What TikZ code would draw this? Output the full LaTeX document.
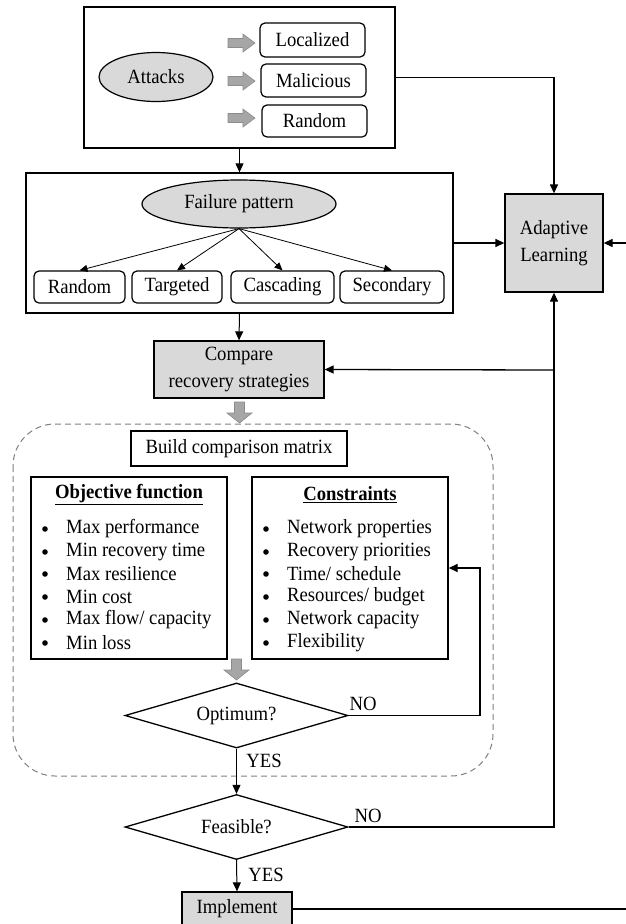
\documentclass[tikz,border=0pt]{standalone}
\usepackage{fontspec}
\setmainfont[FakeStretch=0.925]{Liberation Serif}
\usetikzlibrary{arrows.meta,shapes.geometric}

\definecolor{boxgray}{HTML}{D9D9D9}
\definecolor{blockgray}{HTML}{A6A6A6}
\definecolor{blockedge}{HTML}{8C8C8C}
\definecolor{dashgray}{HTML}{808080}

\begin{document}
\begin{tikzpicture}[x=1pt,y=-1pt,
  every node/.style={font=\fontsize{20.2}{27}\selectfont, inner sep=0pt, align=center},
  frame/.style={draw, line width=1.3pt},
  pill/.style={draw, line width=1.2pt, rounded corners=5pt},
  oval/.style={draw, ellipse, line width=1.2pt, fill=boxgray},
  grayframe/.style={draw, line width=1.3pt, fill=boxgray},
  decision/.style={draw, diamond, aspect=3.43, line width=1.3pt},
  flow/.style={line width=1.3pt, -{Triangle[length=9pt,width=8pt]}},
  thinflow/.style={line width=0.8pt, -{Triangle[length=8pt,width=7pt]}},
  blockfill/.style={fill=blockgray, draw=blockedge, line width=0.6pt},
  listtext/.style={anchor=west, font=\fontsize{20.2}{22.8}\selectfont},
  dot/.style={circle, fill=black, minimum size=5.6pt},
  rblock/.pic={\filldraw[blockfill] (0,-4.5) -- (15,-4.5) -- (15,-9) -- (27,0) -- (15,9) -- (15,4.5) -- (0,4.5) -- cycle;},
  dblock/.pic={\filldraw[blockfill] (-5,0) -- (-5,11) -- (-12.5,11) -- (0,21) -- (12.5,11) -- (5,11) -- (5,0) -- cycle;}
]
\useasboundingbox (0,0) rectangle (626,924);
\clip (0,0) rectangle (626,924);

% ---- attacks block ----
\node[frame, minimum width=311pt, minimum height=141pt] (attackbox) at (239.5,77.5) {};
\node[oval, minimum width=114pt, minimum height=49pt] (attacks) at (156,77) {Attacks};
\node[pill, minimum width=105pt, minimum height=34pt] (loc) at (312.5,40) {Localized};
\node[pill, minimum width=105pt, minimum height=33pt] (mal) at (313.5,80.5) {Malicious};
\node[pill, minimum width=105pt, minimum height=32pt] (rnd) at (314.5,121) {Random};
\pic at (228,43) {rblock};
\pic at (228,81) {rblock};
\pic at (228,118) {rblock};

% ---- failure pattern block ----
\node[frame, minimum width=427pt, minimum height=140pt] (failbox) at (239.5,243) {};
\node[oval, minimum width=194pt, minimum height=48pt] (fp) at (239,204) {Failure pattern};
\node[pill, minimum width=91pt, minimum height=32pt] (f1) at (79.5,287) {Random};
\node[pill, minimum width=90pt, minimum height=32pt] (f2) at (177,287) {Targeted};
\node[pill, minimum width=103pt, minimum height=32pt] (f3) at (282.5,287) {Cascading};
\node[pill, minimum width=104pt, minimum height=32pt] (f4) at (392,287) {Secondary};
\foreach \t in {f1,f2,f3,f4} \draw[thinflow] (fp.south) -- (\t.north);

% ---- adaptive learning ----
\node[grayframe, minimum width=98pt, minimum height=98pt] (adapt) at (554,243) {Adaptive\\Learning};

% ---- compare ----
\node[grayframe, minimum width=170pt, minimum height=57pt] (compare) at (239,369.5) {Compare\\recovery strategies};
\pic at (239.5,402) {dblock};

% ---- comparison matrix region ----
\draw[dashgray, line width=1pt, dash pattern=on 6pt off 4pt, rounded corners=42pt] (13,424) rectangle (493,776);
\node[frame, line width=1.2pt, minimum width=216pt, minimum height=35pt] (build) at (239,448.5) {Build comparison matrix};

\node[frame, minimum width=196pt, minimum height=182pt] (obj) at (129,568) {};
\node (objtitle) at (129,495) {\underline{\textbf{Objective function}}};
\foreach \y/\s in {529/{Max performance}, 552/{Min recovery time}, 574/{Max resilience}, 597/{Min cost}, 620/{Max flow/ capacity}, 643/{Min loss}} {
  \node[dot] at (45,\y) {};
  \node[listtext] at (66,\y) {\s};
}

\node[frame, minimum width=196pt, minimum height=182pt] (cons) at (350,568) {};
\node (constitle) at (350,495) {\underline{\textbf{Constraints}}};
\foreach \y/\s in {529/{Network properties}, 552/{Recovery priorities}, 574/{Time/ schedule}, 597/{Resources/ budget}, 620/{Network capacity}, 643/{Flexibility}} {
  \node[dot] at (266,\y) {};
  \node[listtext] at (287,\y) {\s};
}
\pic at (236.5,659) {dblock};

\node[decision, minimum width=223pt, minimum height=65pt] (opt) at (236.5,715.5) {Optimum?};
\node[decision, minimum width=223pt, minimum height=65pt] (feas) at (236.5,827) {Feasible?};
\node[grayframe, minimum width=110pt, minimum height=34pt] (impl) at (237,909) {Implement};

% ---- connectors ----
\draw[line width=1pt, -{Triangle[length=9pt,width=8pt]}] (attackbox.south) -- (failbox.north);
\draw[flow] (attackbox.east) -| (adapt.north);
\draw[flow] (failbox.east) -- (adapt.west);
\draw[line width=1pt, -{Triangle[length=9pt,width=8pt]}] (failbox.south) -- (compare.north);

\coordinate (rail) at (554,370);
\draw[flow] (feas.east) -| (adapt.south);
\draw[flow] (rail) -- (compare.east);

\coordinate (loop) at (480,568);
\draw[flow] (opt.east) -| (loop) -- (cons.east);
\node at (363,704) {NO};

\draw[flow, line width=1pt] (opt.south) -- (feas.north);
\node at (264,761) {YES};
\node at (368,816) {NO};

\draw[flow, line width=1pt] (feas.south) -- (impl.north);
\node at (266,875) {YES};

\coordinate (edge) at (640,909);
\draw[flow] (impl.east) -- (edge) |- (adapt.east);
\end{tikzpicture}
\end{document}
